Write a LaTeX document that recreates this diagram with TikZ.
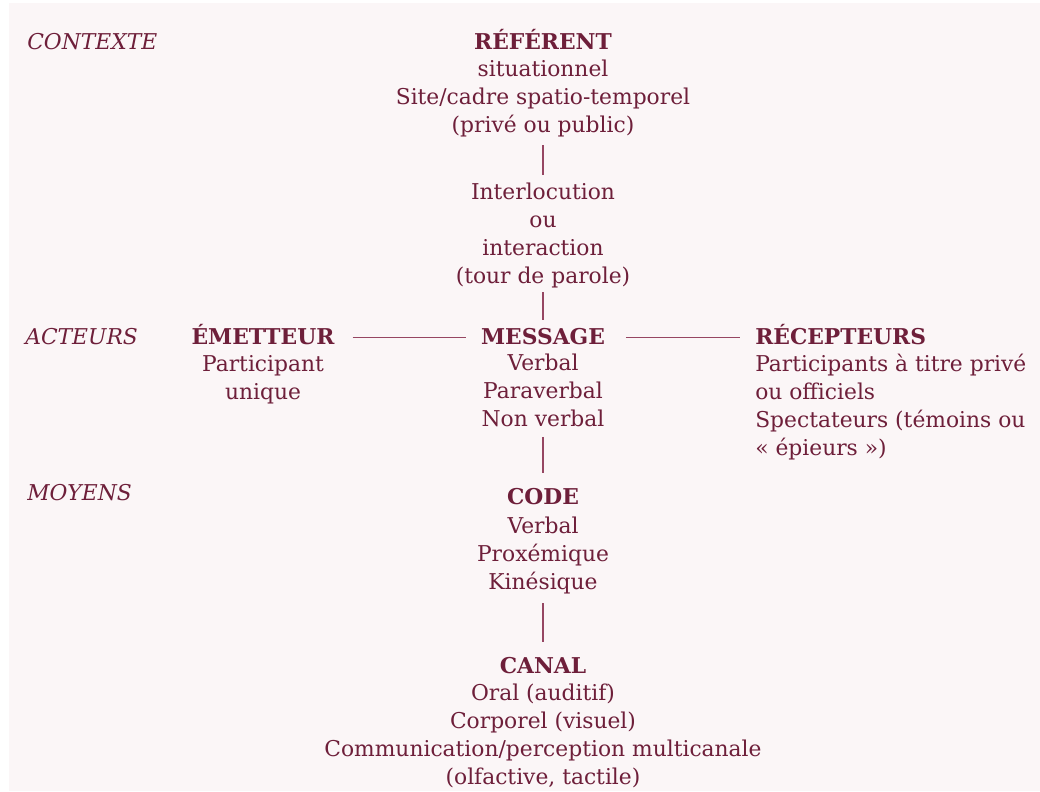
\documentclass[tikz,border=0pt]{standalone}
\usepackage{fontspec}
\setmainfont{DejaVu Serif}
\usetikzlibrary{positioning}
\definecolor{bgpink}{RGB}{251,246,247}
\definecolor{wine}{RGB}{110,31,58}
\definecolor{winelink}{RGB}{150,70,98}

\begin{document}
\begin{tikzpicture}[x=0.025cm,y=-0.025cm,
	txt/.style={inner sep=0pt,text=wine,font=\fontsize{15.5}{19.9}\selectfont,
		execute at begin node=\strut,execute at end node=\strut},
	body/.style={txt,align=center,anchor=south},
	head/.style={inner sep=0pt,text=wine,font=\fontsize{15.5}{19.9}\selectfont\bfseries,
		text height=14.6pt,text depth=5.3pt,anchor=base},
	side/.style={txt,font=\fontsize{15.5}{19.9}\selectfont\itshape,anchor=base west},
	link/.style={draw=winelink,line width=1.3pt}]
	%%%%% START %%%%%
	
	\useasboundingbox (0,0) rectangle (1040,791);
	\fill[bgpink] (9,3) rectangle (1040,791);
	
	% rangees
	\node[side] (ctx) at (27,49) {CONTEXTE};
	\node[side] (act) at (25,344) {ACTEURS};
	\node[side] (moy) at (27,500) {MOYENS};
	
	% contexte
	\node[head] (reftitle) at (543,49) {RÉFÉRENT};
	\node[body] (refbody) at (543,141.4) {situationnel\\Site/cadre spatio-temporel\\(privé ou public)};
	\node[body] (inter) at (543,292.4) {Interlocution\\ou\\interaction\\(tour de parole)};
	
	% acteurs
	\node[head] (emtitle) at (263,344) {ÉMETTEUR};
	\node[body] (embody) at (263,408.4) {Participant\\unique};
	
	\node[head] (msgtitle) at (543,344) {MESSAGE};
	\node[body] (msgbody) at (543,435.4) {Verbal\\Paraverbal\\Non verbal};
	
	\node[head,anchor=base west] (rectitle) at (755,344) {RÉCEPTEURS};
	\node[body,align=left,anchor=south west] (recbody) at (755,464.4) {Participants à titre privé\\ou officiels\\Spectateurs (témoins ou\\« épieurs »)};
	
	% moyens
	\node[head] (codetitle) at (543,504) {CODE};
	\node[body] (codebody) at (543,598.4) {Verbal\\Proxémique\\Kinésique};
	
	\node[head] (canaltitle) at (543,673) {CANAL};
	\node[body] (canalbody) at (543,793.4) {Oral (auditif)\\Corporel (visuel)\\Communication/perception multicanale\\(olfactive, tactile)};
	
	% traits
	\draw[link,shorten <=2.6pt,shorten >=6pt] (refbody.south) -- (inter.north);
	\draw[link,shorten >=2.5pt] (inter.south) -- (msgtitle.north);
	\draw[link,shorten <=1.1pt,shorten >=7.5pt] (msgbody.south) -- (codetitle.north);
	\draw[link,shorten <=3.3pt,shorten >=7.5pt] (codebody.south) -- (canaltitle.north);
	\draw[link,shorten <=12.8pt,shorten >=10.3pt] (emtitle.east) -- (msgtitle.west);
	\draw[link,shorten <=14.6pt,shorten >=10.7pt] (msgtitle.east) -- (rectitle.west);
	
	%%%%% END %%%%%
\end{tikzpicture}
\end{document}
